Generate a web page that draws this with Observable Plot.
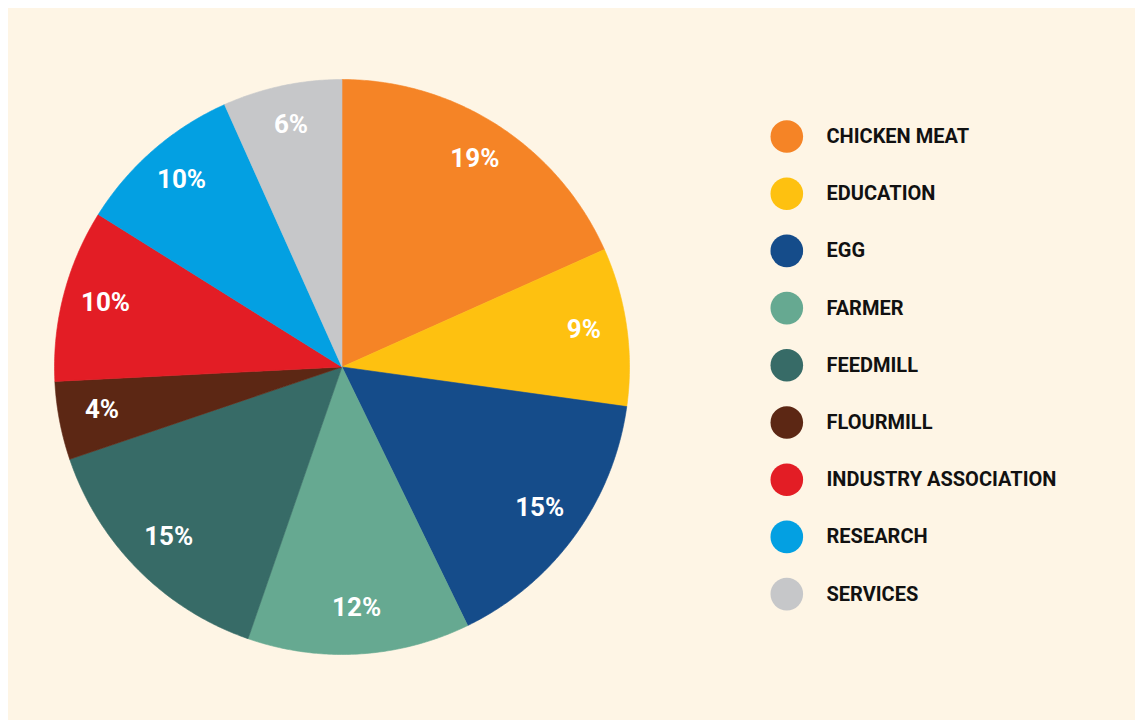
<!DOCTYPE html>
<html>
<head>
<meta charset="utf-8">
<script src="https://cdn.jsdelivr.net/npm/d3@7"></script>
<script src="https://cdn.jsdelivr.net/npm/@observablehq/plot@0.6"></script>
<style>
  html, body { overflow: hidden; }
  body { margin: 8px 0 0 8px; background: #ffffff; }
  #chart svg { display: block; max-width: none; }
</style>
</head>
<body>
<div id="chart"></div>
<script>
// ---- data ----
const categories = ["CHICKEN MEAT", "EDUCATION", "EGG", "FARMER", "FEEDMILL", "FLOURMILL", "INDUSTRY ASSOCIATION", "RESEARCH", "SERVICES"];
const shares = [18.3, 8.9, 15.6, 12.5, 14.5, 4.4, 9.7, 9.4, 6.7];
const shareLabels = ["19%", "9%", "15%", "12%", "15%", "4%", "10%", "10%", "6%"];
const colors = ["#F58426", "#FEC110", "#154C8A", "#66A991", "#376B67", "#5C2714", "#E31D25", "#03A0E2", "#C6C7C9"];

// ---- layout ----
const W = 1127, H = 712;
const cx = 333.5, cy = 358.5, R = 287.5, labelR = 0.85 * R;
const legendX = 778.3, legendTextX = 818, legendY0 = 128, legendStep = 57.2;

const table = categories.map((c, i) => ({cat: c, share: shares[i], label: shareLabels[i]}));
const arcs = d3.pie().sort(null).value(d => d.share).startAngle(0).endAngle(2 * Math.PI)(table);

// wedge outlines (center -> arc -> center)
const wedgePts = [];
arcs.forEach(a => {
  const n = Math.max(2, Math.ceil((a.endAngle - a.startAngle) / (Math.PI / 360)));
  wedgePts.push({cat: a.data.cat, x: cx, y: cy});
  for (let k = 0; k <= n; k++) {
    const t = a.startAngle + (a.endAngle - a.startAngle) * k / n;
    wedgePts.push({cat: a.data.cat, x: cx + R * Math.sin(t), y: cy - R * Math.cos(t)});
  }
  wedgePts.push({cat: a.data.cat, x: cx, y: cy});
});
const labelPts = arcs.map(a => {
  const m = (a.startAngle + a.endAngle) / 2;
  return {cat: a.data.cat, label: a.data.label, x: cx + labelR * Math.sin(m), y: cy - labelR * Math.cos(m) - 3};
});
const legendPts = categories.map((c, i) => ({cat: c, y: legendY0 + i * legendStep}));

const chart = Plot.plot({
  width: W,
  height: H,
  margin: 0,
  style: {background: "#FEF5E5", fontFamily: "Roboto, sans-serif", maxWidth: "none"},
  x: {domain: [0, W], range: [0, W], axis: null},
  y: {domain: [0, H], range: [0, H], axis: null},
  color: {domain: categories, range: colors},
  marks: [
    Plot.line(wedgePts, {x: "x", y: "y", z: "cat", fill: "cat", stroke: "cat", strokeWidth: 0.6, curve: "linear"}),
    Plot.text(labelPts, {x: "x", y: "y", text: "label", fill: "#ffffff", fontSize: 26, fontWeight: 700, fontFamily: "Roboto", textAnchor: "middle", lineAnchor: "middle"}),
    Plot.dot(legendPts, {x: () => legendX, y: "y", r: 16.3, fill: "cat", stroke: null}),
    Plot.text(legendPts, {x: () => legendTextX, y: "y", text: "cat", fill: "#111111", fontSize: 20, fontWeight: 700, fontFamily: "Roboto", textAnchor: "start", lineAnchor: "middle"})
  ]
});
document.getElementById("chart").appendChild(chart);
</script>
</body>
</html>
